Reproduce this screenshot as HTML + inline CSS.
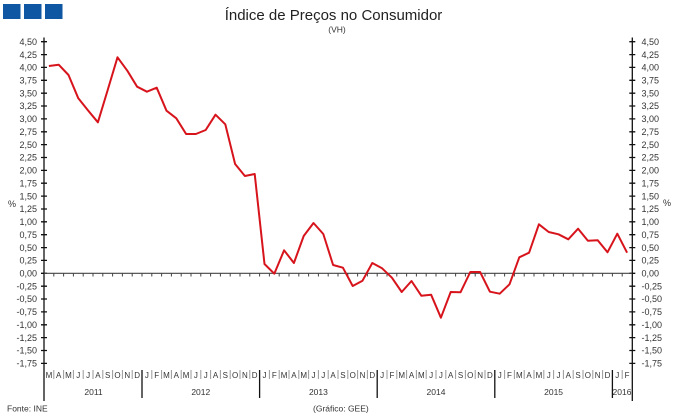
<!DOCTYPE html>
<html><head><meta charset="utf-8"><style>
html,body{margin:0;padding:0;background:#fff;}
svg{display:block;font-family:"Liberation Sans",Arial,sans-serif;}
</style></head><body>
<svg width="679" height="419" viewBox="0 0 679 419" xmlns="http://www.w3.org/2000/svg">
<rect width="679" height="419" fill="#fff"/>
<!-- logo -->
<rect x="3" y="4" width="17.5" height="15" fill="#0f57a2"/>
<rect x="24" y="4" width="17.5" height="15" fill="#0f57a2"/>
<rect x="45" y="4" width="17.5" height="15" fill="#0f57a2"/>
<!-- title -->
<text x="333.5" y="20" font-size="15" text-anchor="middle" fill="#222">Índice de Preços no Consumidor</text>
<text x="337" y="32.5" font-size="8.5" text-anchor="middle" fill="#333">(VH)</text>
<!-- axes -->
<g stroke="#111" stroke-width="1.3" fill="none">
<path d="M44 37.5V401M632.3 37.5V401"/>
<path d="M41 41.7h6M41 54.6h6M41 67.4h6M41 80.3h6M41 93.2h6M41 106h6M41 118.9h6M41 131.8h6M41 144.6h6M41 157.5h6M41 170.4h6M41 183.2h6M41 196.1h6M41 209h6M41 221.8h6M41 234.7h6M41 247.6h6M41 260.4h6M41 273.3h6M41 286.2h6M41 299h6M41 311.9h6M41 324.8h6M41 337.6h6M41 350.5h6M41 363.4h6"/>
<path d="M629.3 41.7h6M629.3 54.6h6M629.3 67.4h6M629.3 80.3h6M629.3 93.2h6M629.3 106h6M629.3 118.9h6M629.3 131.8h6M629.3 144.6h6M629.3 157.5h6M629.3 170.4h6M629.3 183.2h6M629.3 196.1h6M629.3 209h6M629.3 221.8h6M629.3 234.7h6M629.3 247.6h6M629.3 260.4h6M629.3 273.3h6M629.3 286.2h6M629.3 299h6M629.3 311.9h6M629.3 324.8h6M629.3 337.6h6M629.3 350.5h6M629.3 363.4h6"/>
<path d="M142 370V398M259.6 370V398M377.2 370V398M494.8 370V398M612.4 370V398"/>
</g>
<!-- zero line -->
<path d="M44 273.3H632" stroke="#444" stroke-width="1.1" fill="none"/>
<path d="M53.8 273.3v3.2M63.6 273.3v3.2M73.4 273.3v3.2M83.2 273.3v3.2M93 273.3v3.2M102.8 273.3v3.2M112.6 273.3v3.2M122.4 273.3v3.2M132.2 273.3v3.2M142 273.3v3.2M151.8 273.3v3.2M161.6 273.3v3.2M171.4 273.3v3.2M181.2 273.3v3.2M191 273.3v3.2M200.8 273.3v3.2M210.6 273.3v3.2M220.4 273.3v3.2M230.2 273.3v3.2M240 273.3v3.2M249.8 273.3v3.2M259.6 273.3v3.2M269.4 273.3v3.2M279.2 273.3v3.2M289 273.3v3.2M298.8 273.3v3.2M308.6 273.3v3.2M318.4 273.3v3.2M328.2 273.3v3.2M338 273.3v3.2M347.8 273.3v3.2M357.6 273.3v3.2M367.4 273.3v3.2M377.2 273.3v3.2M387 273.3v3.2M396.8 273.3v3.2M406.6 273.3v3.2M416.4 273.3v3.2M426.2 273.3v3.2M436 273.3v3.2M445.8 273.3v3.2M455.6 273.3v3.2M465.4 273.3v3.2M475.2 273.3v3.2M485 273.3v3.2M494.8 273.3v3.2M504.6 273.3v3.2M514.4 273.3v3.2M524.2 273.3v3.2M534 273.3v3.2M543.8 273.3v3.2M553.6 273.3v3.2M563.4 273.3v3.2M573.2 273.3v3.2M583 273.3v3.2M592.8 273.3v3.2M602.6 273.3v3.2M612.4 273.3v3.2M622.2 273.3v3.2" stroke="#444" stroke-width="1" fill="none"/>
<!-- month separators -->
<path d="M53.8 370v9M63.6 370v9M73.4 370v9M83.2 370v9M93 370v9M102.8 370v9M112.6 370v9M122.4 370v9M132.2 370v9M151.8 370v9M161.6 370v9M171.4 370v9M181.2 370v9M191 370v9M200.8 370v9M210.6 370v9M220.4 370v9M230.2 370v9M240 370v9M249.8 370v9M269.4 370v9M279.2 370v9M289 370v9M298.8 370v9M308.6 370v9M318.4 370v9M328.2 370v9M338 370v9M347.8 370v9M357.6 370v9M367.4 370v9M387 370v9M396.8 370v9M406.6 370v9M416.4 370v9M426.2 370v9M436 370v9M445.8 370v9M455.6 370v9M465.4 370v9M475.2 370v9M485 370v9M504.6 370v9M514.4 370v9M524.2 370v9M534 370v9M543.8 370v9M553.6 370v9M563.4 370v9M573.2 370v9M583 370v9M592.8 370v9M602.6 370v9M622.2 370v9" stroke="#999" stroke-width="1" fill="none"/>
<!-- y labels left -->
<g font-size="9" fill="#333" text-anchor="end">
<text x="37" y="44.9">4,50</text><text x="37" y="57.8">4,25</text><text x="37" y="70.6">4,00</text><text x="37" y="83.5">3,75</text><text x="37" y="96.4">3,50</text><text x="37" y="109.2">3,25</text><text x="37" y="122.1">3,00</text><text x="37" y="135">2,75</text><text x="37" y="147.8">2,50</text><text x="37" y="160.7">2,25</text><text x="37" y="173.6">2,00</text><text x="37" y="186.4">1,75</text><text x="37" y="199.3">1,50</text><text x="37" y="212.2">1,25</text><text x="37" y="225">1,00</text><text x="37" y="237.9">0,75</text><text x="37" y="250.8">0,50</text><text x="37" y="263.6">0,25</text><text x="37" y="276.5">0,00</text><text x="37" y="289.4">-0,25</text><text x="37" y="302.2">-0,50</text><text x="37" y="315.1">-0,75</text><text x="37" y="328">-1,00</text><text x="37" y="340.8">-1,25</text><text x="37" y="353.7">-1,50</text><text x="37" y="366.6">-1,75</text>
</g>
<g font-size="9" fill="#333" text-anchor="start">
<text x="641.5" y="44.9">4,50</text><text x="641.5" y="57.8">4,25</text><text x="641.5" y="70.6">4,00</text><text x="641.5" y="83.5">3,75</text><text x="641.5" y="96.4">3,50</text><text x="641.5" y="109.2">3,25</text><text x="641.5" y="122.1">3,00</text><text x="641.5" y="135">2,75</text><text x="641.5" y="147.8">2,50</text><text x="641.5" y="160.7">2,25</text><text x="641.5" y="173.6">2,00</text><text x="641.5" y="186.4">1,75</text><text x="641.5" y="199.3">1,50</text><text x="641.5" y="212.2">1,25</text><text x="641.5" y="225">1,00</text><text x="641.5" y="237.9">0,75</text><text x="641.5" y="250.8">0,50</text><text x="641.5" y="263.6">0,25</text><text x="641.5" y="276.5">0,00</text><text x="641.5" y="289.4">-0,25</text><text x="641.5" y="302.2">-0,50</text><text x="641.5" y="315.1">-0,75</text><text x="641.5" y="328">-1,00</text><text x="641.5" y="340.8">-1,25</text><text x="641.5" y="353.7">-1,50</text><text x="641.5" y="366.6">-1,75</text>
</g>
<text x="12" y="207" font-size="9" fill="#333" text-anchor="middle">%</text>
<text x="667" y="206" font-size="9" fill="#333" text-anchor="middle">%</text>
<!-- month labels -->
<g font-size="8" fill="#333" text-anchor="middle">
<text x="48.9" y="378">M</text><text x="58.7" y="378">A</text><text x="68.5" y="378">M</text><text x="78.3" y="378">J</text><text x="88.1" y="378">J</text><text x="97.9" y="378">A</text><text x="107.7" y="378">S</text><text x="117.5" y="378">O</text><text x="127.3" y="378">N</text><text x="137.1" y="378">D</text>
<text x="146.9" y="378">J</text><text x="156.7" y="378">F</text><text x="166.5" y="378">M</text><text x="176.3" y="378">A</text><text x="186.1" y="378">M</text><text x="195.9" y="378">J</text><text x="205.7" y="378">J</text><text x="215.5" y="378">A</text><text x="225.3" y="378">S</text><text x="235.1" y="378">O</text><text x="244.9" y="378">N</text><text x="254.7" y="378">D</text>
<text x="264.5" y="378">J</text><text x="274.3" y="378">F</text><text x="284.1" y="378">M</text><text x="293.9" y="378">A</text><text x="303.7" y="378">M</text><text x="313.5" y="378">J</text><text x="323.3" y="378">J</text><text x="333.1" y="378">A</text><text x="342.9" y="378">S</text><text x="352.7" y="378">O</text><text x="362.5" y="378">N</text><text x="372.3" y="378">D</text>
<text x="382.1" y="378">J</text><text x="391.9" y="378">F</text><text x="401.7" y="378">M</text><text x="411.5" y="378">A</text><text x="421.3" y="378">M</text><text x="431.1" y="378">J</text><text x="440.9" y="378">J</text><text x="450.7" y="378">A</text><text x="460.5" y="378">S</text><text x="470.3" y="378">O</text><text x="480.1" y="378">N</text><text x="489.9" y="378">D</text>
<text x="499.7" y="378">J</text><text x="509.5" y="378">F</text><text x="519.3" y="378">M</text><text x="529.1" y="378">A</text><text x="538.9" y="378">M</text><text x="548.7" y="378">J</text><text x="558.5" y="378">J</text><text x="568.3" y="378">A</text><text x="578.1" y="378">S</text><text x="587.9" y="378">O</text><text x="597.7" y="378">N</text><text x="607.5" y="378">D</text>
<text x="617.3" y="378">J</text><text x="627.1" y="378">F</text>
</g>
<g font-size="8.5" fill="#333" text-anchor="middle">
<text x="93.5" y="395">2011</text><text x="200.8" y="395">2012</text><text x="318.4" y="395">2013</text><text x="436" y="395">2014</text><text x="553.6" y="395">2015</text><text x="622" y="395">2016</text>
</g>
<text x="7" y="411.5" font-size="8.5" fill="#333">Fonte:  INE</text>
<text x="313" y="411.5" font-size="8.5" fill="#333">(Gráfico:  GEE)</text>
<!-- data -->
<polyline fill="none" stroke="#d7141c" stroke-width="2" stroke-linejoin="round" points="48.9,66 58.7,64.7 68.5,75 78.3,98.3 88.1,110.5 97.9,122.3 107.7,90 117.5,57.3 127.3,70.7 137.1,86.7 146.9,91.7 156.7,87.7 166.5,110.7 176.3,118.3 186.1,134 195.9,134 205.7,130 215.5,114.7 225.3,124.3 235.1,164 244.9,176 254.7,174 264.5,264 274.3,273.7 284.1,250.3 293.9,263 303.7,236 313.5,223 323.3,234 333.1,265 342.9,267.7 352.7,286 362.5,280.7 372.3,263 382.1,268.3 391.9,277.7 401.7,292 411.5,281 421.3,295.7 431.1,294.7 440.9,317.7 450.7,292 460.5,292.3 470.3,272 480.1,272 489.9,291.7 499.7,293.7 509.5,284.3 519.3,257.3 529.1,252.7 538.9,224.3 548.7,232 558.5,234.3 568.3,239.3 578.1,228.7 587.9,240.7 597.7,240.3 607.5,252.3 617.3,233.7 627.1,252.7"/>
</svg>
</body></html>
